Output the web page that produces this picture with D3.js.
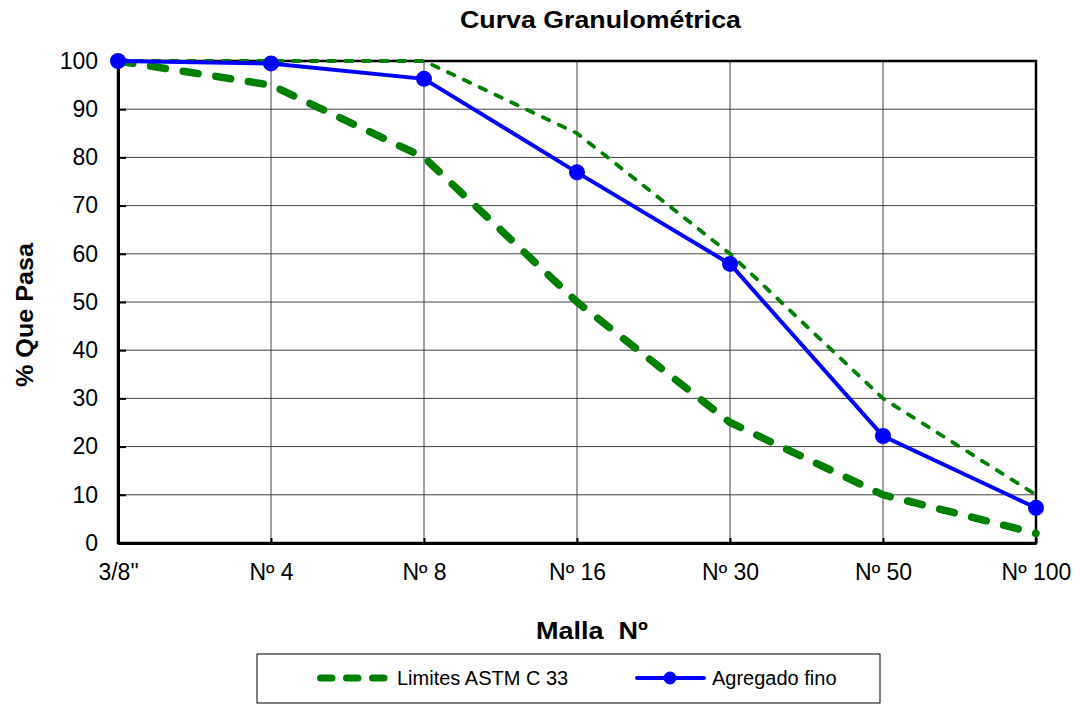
<!DOCTYPE html>
<html>
<head>
<meta charset="utf-8">
<script src="https://cdn.jsdelivr.net/npm/d3@7"></script>
<style>
  body { margin: 0; background: #fff; }
  svg { display: block; font-family: Arial, "Liberation Sans", sans-serif; }
</style>
</head>
<body>
<svg id="chart" width="1082" height="704"></svg>
<script>
// sieve sizes
var mallas = ["3/8\"", "Nº 4", "Nº 8", "Nº 16", "Nº 30", "Nº 50", "Nº 100"];
// ASTM C 33 limits
var limiteInferior = [100, 95, 80, 50, 25, 10, 2];
var limiteSuperior = [100, 100, 100, 85, 60, 30, 10];
// fine aggregate
var agregadoFino = [100, 99.5, 96.3, 76.9, 57.9, 22.2, 7.3];
var yTicks = [0, 10, 20, 30, 40, 50, 60, 70, 80, 90, 100];

var svg = d3.select("#chart"),
    pLeft = 118, pRight = 1036, pTop = 61, pBottom = 543;

var x = d3.scalePoint().domain(mallas).range([pLeft, pRight]);
var y = d3.scaleLinear().domain([0, 100]).range([pBottom, pTop]);

// grid
svg.append("g").selectAll("line").data(yTicks.slice(1)).join("line")
  .attr("x1", pLeft).attr("x2", pRight)
  .attr("y1", function (d) { return y(d); }).attr("y2", function (d) { return y(d); })
  .attr("stroke", "#404040").attr("stroke-width", 1);
svg.append("g").selectAll("line").data(mallas.slice(1, -1)).join("line")
  .attr("y1", pTop).attr("y2", pBottom)
  .attr("x1", function (d) { return x(d); }).attr("x2", function (d) { return x(d); })
  .attr("stroke", "#404040").attr("stroke-width", 1);

// frame
svg.append("rect").attr("x", pLeft).attr("y", pTop)
  .attr("width", pRight - pLeft).attr("height", pBottom - pTop)
  .attr("fill", "none").attr("stroke", "#000").attr("stroke-width", 2.5);

// axes (ticks point inward)
var yAxis = svg.append("g").attr("transform", "translate(" + pLeft + ",0)")
  .call(d3.axisLeft(y).tickValues(yTicks).tickSizeInner(-8).tickSizeOuter(0).tickPadding(20));
var xAxis = svg.append("g").attr("transform", "translate(0," + pBottom + ")")
  .call(d3.axisBottom(x).tickSizeInner(-5).tickSizeOuter(0).tickPadding(21));
[yAxis, xAxis].forEach(function (a) {
  a.select(".domain").attr("stroke", "#000").attr("stroke-width", 3);
  a.selectAll(".tick line").attr("stroke", "#000").attr("stroke-width", 2);
  a.selectAll("text").attr("font-size", 23).attr("fill", "#000")
    .attr("font-family", "Arial, 'Liberation Sans', sans-serif");
});

var line = d3.line()
  .x(function (d, i) { return x(mallas[i]); })
  .y(function (d) { return y(d); });

svg.append("path").datum(limiteInferior).attr("d", line)
  .attr("fill", "none").attr("stroke", "#008000").attr("stroke-width", 7.5)
  .attr("stroke-dasharray", "15,18").attr("stroke-linecap", "round");
svg.append("path").datum(limiteSuperior).attr("d", line)
  .attr("fill", "none").attr("stroke", "#008000").attr("stroke-width", 3.8)
  .attr("stroke-dasharray", "7,10.5").attr("stroke-linecap", "round");
svg.append("path").datum(agregadoFino).attr("d", line)
  .attr("fill", "none").attr("stroke", "#0000ff").attr("stroke-width", 4);
svg.append("g").selectAll("circle").data(agregadoFino).join("circle")
  .attr("cx", function (d, i) { return x(mallas[i]); })
  .attr("cy", function (d) { return y(d); })
  .attr("r", 8).attr("fill", "#0000ff");

// bold titles are drawn a bit wider in the original, stretch them horizontally
function wideText(txt, x0, y0, size, width, rotate) {
  var t = svg.append("text").attr("font-size", size).attr("font-weight", "bold")
    .style("white-space", "pre").text(txt);
  var sx = width / t.node().getComputedTextLength();
  t.attr("transform", "translate(" + x0 + "," + y0 + ")" +
    (rotate ? " rotate(-90)" : "") + " scale(" + sx + ",1)");
}
wideText("Curva Granulométrica", 460, 28, 24, 281);
wideText("Malla  Nº", 536, 639, 24, 112);
wideText("% Que Pasa", 33, 387, 24, 144, true);

// legend
var lg = svg.append("g");
lg.append("rect").attr("x", 257).attr("y", 654).attr("width", 623).attr("height", 49)
  .attr("fill", "#fff").attr("stroke", "#000").attr("stroke-width", 1);
lg.append("line").attr("x1", 320.5).attr("x2", 384).attr("y1", 678).attr("y2", 678)
  .attr("stroke", "#008000").attr("stroke-width", 7)
  .attr("stroke-dasharray", "11.5,14.5").attr("stroke-linecap", "round");
lg.append("text").attr("x", 397).attr("y", 685).attr("font-size", 20).text("Limites ASTM C 33");
lg.append("line").attr("x1", 637).attr("x2", 704).attr("y1", 678).attr("y2", 678)
  .attr("stroke", "#0000ff").attr("stroke-width", 4).attr("stroke-linecap", "round");
lg.append("circle").attr("cx", 670).attr("cy", 678).attr("r", 6.5).attr("fill", "#0000ff");
lg.append("text").attr("x", 712).attr("y", 685).attr("font-size", 20).text("Agregado fino");
</script>
</body>
</html>
